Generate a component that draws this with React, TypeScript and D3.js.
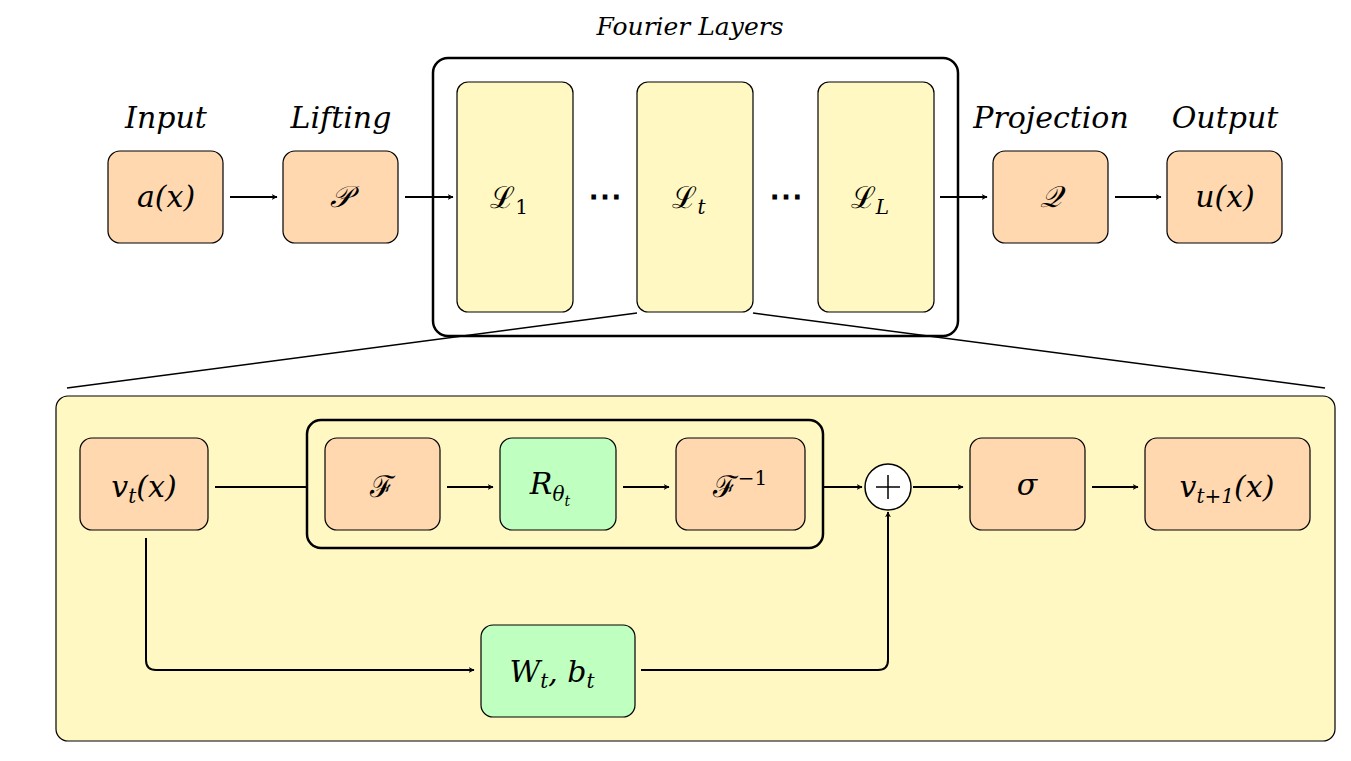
import React from "react";
import * as d3 from "d3";

const W = 1351;
const H = 761;

// top row blocks
const topBlocks = [
  { id: "a", label: "a(x)", caption: "Input" },
  { id: "P", label: "𝒫", caption: "Lifting" },
  { id: "Q", label: "𝒬", caption: "Projection" },
  { id: "u", label: "u(x)", caption: "Output" },
];
const topX = [108, 283, 993, 1167];

const layers = ["1", "t", "L"];
const layerX = [457, 637, 818];

// bottom row blocks
const botBlocks = [
  { id: "v", x: 80, w: 128, kind: "orange" },
  { id: "F", x: 325, w: 115, kind: "orange" },
  { id: "R", x: 500, w: 116, kind: "green" },
  { id: "Fi", x: 676, w: 129, kind: "orange" },
  { id: "s", x: 970, w: 115, kind: "orange" },
  { id: "v1", x: 1145, w: 165, kind: "orange" },
];

const ORANGE = "#FFD8B0";
const YELLOW = "#FFF8C2";
const GREEN = "#BFFFBF";
const font = "'DejaVu Serif', 'Liberation Serif', serif";

const line = d3.line<[number, number]>();

const Arrow = ({ pts }: { pts: [number, number][] }) => (
  <path d={line(pts) || ""} fill="none" stroke="#000" strokeWidth={2} markerEnd="url(#ah)" />
);

export default function App() {
  const mathStyle = { fontFamily: font, fontStyle: "italic", fontSize: 30 } as const;
  return (
    <svg width={W} height={H} style={{ display: "block", margin: -8 }}>
      <defs>
        <marker id="ah" viewBox="0 0 10 10" refX="9" refY="5" markerWidth="6" markerHeight="6" orient="auto" markerUnits="userSpaceOnUse">
          <path d="M0,0 L10,5 L0,10 L3,5 z" fill="#000" transform="scale(1)" />
        </marker>
      </defs>
      <rect width={W} height={H} fill="#fff" />

      <text x={690} y={35} textAnchor="middle" fontFamily={font} fontStyle="italic" fontSize={25}>Fourier Layers</text>
      <rect x={433} y={58} width={525} height={278} rx={15} fill="none" stroke="#000" strokeWidth={2.5} />
      {layers.map((l, i) => (
        <g key={l}>
          <rect x={layerX[i]} y={82} width={116} height={230} rx={11} fill={YELLOW} stroke="#000" strokeWidth={1.2} />
          <text x={layerX[i] + 52} y={208} textAnchor="middle" fontFamily={font} fontSize={30}>
            ℒ<tspan fontSize={20} dy={6} fontStyle={l === "1" ? "normal" : "italic"}>{l}</tspan>
          </text>
        </g>
      ))}
      {[605, 786].map((x) => (
        <text key={x} x={x} y={208} textAnchor="middle" fontFamily={font} fontWeight="bold" fontSize={34}>⋯</text>
      ))}

      {topBlocks.map((b, i) => (
        <g key={b.id}>
          <text x={topX[i] + 58} y={128} textAnchor="middle" fontFamily={font} fontStyle="italic" fontSize={30}>{b.caption}</text>
          <rect x={topX[i]} y={151} width={115} height={92} rx={12} fill={ORANGE} stroke="#000" strokeWidth={1.2} />
          <text x={topX[i] + 58} y={207} textAnchor="middle" {...mathStyle}>{b.label}</text>
        </g>
      ))}
      <Arrow pts={[[230, 197], [277, 197]]} />
      <Arrow pts={[[405, 197], [453, 197]]} />
      <Arrow pts={[[940, 197], [987, 197]]} />
      <Arrow pts={[[1115, 197], [1161, 197]]} />

      <path d={line([[637, 313], [67, 388]]) || ""} stroke="#000" strokeWidth={1.5} />
      <path d={line([[753, 313], [1325, 388]]) || ""} stroke="#000" strokeWidth={1.5} />

      <rect x={56} y={396} width={1279} height={345} rx={12} fill={YELLOW} stroke="#000" strokeWidth={1.2} />
      <rect x={307} y={420} width={516} height={128} rx={14} fill="none" stroke="#000" strokeWidth={2.5} />
      {botBlocks.map((b) => (
        <rect key={b.id} x={b.x} y={438} width={b.w} height={92} rx={12} fill={b.kind === "green" ? GREEN : ORANGE} stroke="#000" strokeWidth={1.2} />
      ))}
      <rect x={481} y={625} width={154} height={92} rx={12} fill={GREEN} stroke="#000" strokeWidth={1.2} />

      <text x={144} y={497} textAnchor="middle" {...mathStyle}>v<tspan fontSize={20} dy={6}>t</tspan><tspan dy={-6}>(x)</tspan></text>
      <text x={382} y={497} textAnchor="middle" fontFamily={font} fontSize={30}>ℱ</text>
      <text x={550} y={494} textAnchor="middle" {...mathStyle}>R<tspan fontSize={20} dy={7}>θ</tspan><tspan fontSize={14} dy={5}>t</tspan></text>
      <text x={740} y={497} textAnchor="middle" fontFamily={font} fontSize={30}>ℱ<tspan fontSize={20} dy={-12}>−1</tspan></text>
      <text x={1027} y={495} textAnchor="middle" {...mathStyle}>σ</text>
      <text x={1227} y={497} textAnchor="middle" {...mathStyle}>v<tspan fontSize={20} dy={6}>t+1</tspan><tspan dy={-6}>(x)</tspan></text>
      <text x={552} y={682} textAnchor="middle" {...mathStyle}>W<tspan fontSize={20} dy={6}>t</tspan><tspan dy={-6}>, b</tspan><tspan fontSize={20} dy={6}>t</tspan></text>

      <circle cx={888} cy={487} r={23} fill="#fff" stroke="#000" strokeWidth={1.5} />
      <path d="M876,487 H900 M888,475 V499" stroke="#000" strokeWidth={1.5} />

      <path d={line([[215, 487], [307, 487]]) || ""} stroke="#000" strokeWidth={2} />
      <Arrow pts={[[447, 487], [493, 487]]} />
      <Arrow pts={[[623, 487], [669, 487]]} />
      <Arrow pts={[[823, 487], [862, 487]]} />
      <Arrow pts={[[913, 487], [963, 487]]} />
      <Arrow pts={[[1092, 487], [1138, 487]]} />
      <path d="M146,538 V660 Q146,670 156,670 H474" fill="none" stroke="#000" strokeWidth={2} markerEnd="url(#ah)" />
      <path d="M641,670 H878 Q888,670 888,660 V512" fill="none" stroke="#000" strokeWidth={2} markerEnd="url(#ah)" />
    </svg>
  );
}
